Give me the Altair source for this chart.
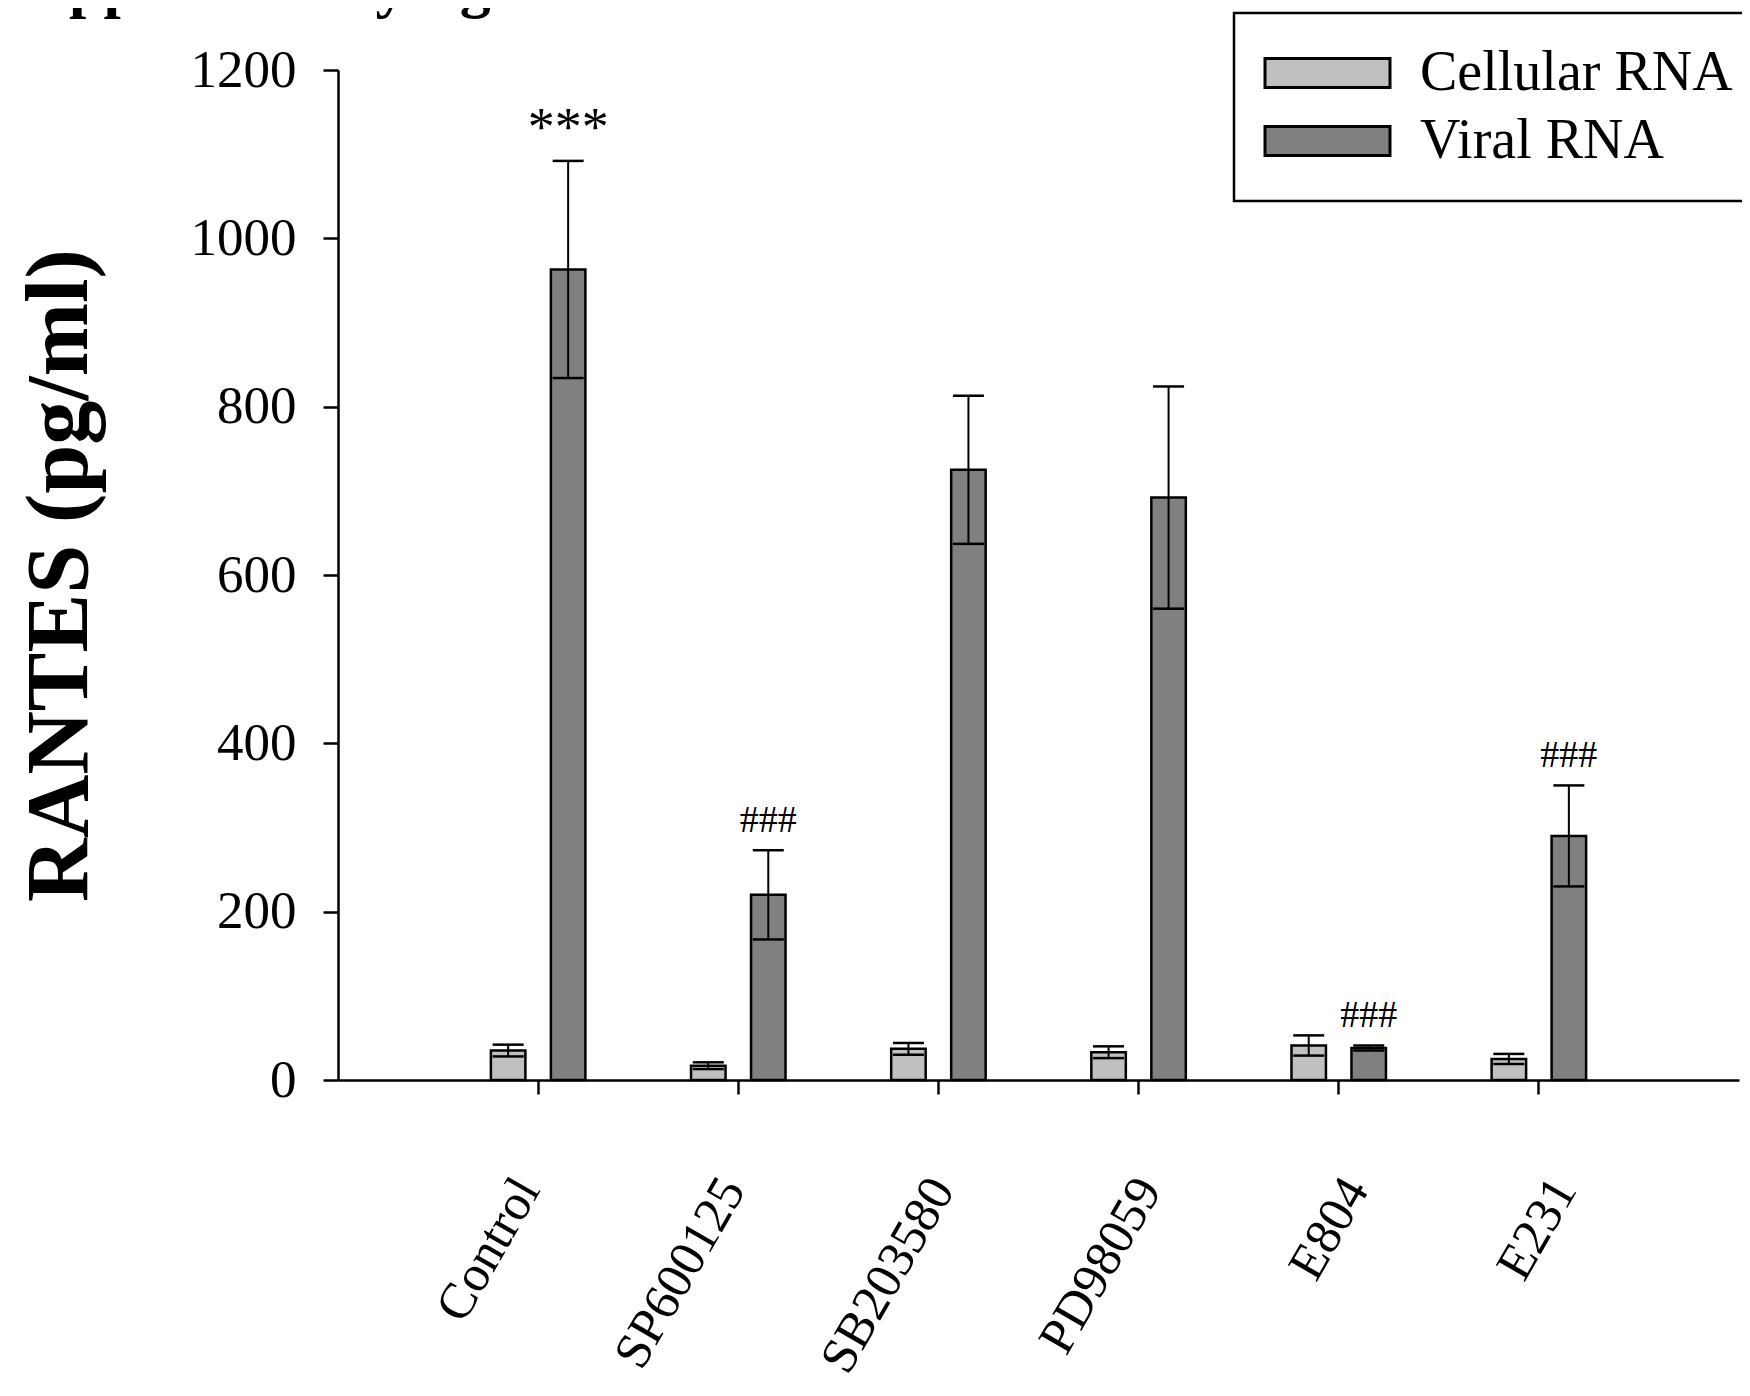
import altair as alt
import pandas as pd

# ---- data ----
categories = ["Control", "SP600125", "SB203580", "PD98059", "E804", "E231"]
series = ["Cellular RNA", "Viral RNA"]
cellular_mean = [35, 17, 37, 33, 41, 25]
cellular_err = [7, 4, 7, 7, 12, 6]
viral_mean = [963, 220, 725, 692, 38, 290]
viral_err = [129, 53, 88, 132, 3, 60]
viral_marks = ["***", "###", "", "", "###", "###"]
y_ticks = [0, 200, 400, 600, 800, 1000, 1200]
y_title = "RANTES (pg/ml)"
fig_title = "Supplementary figure 1B"
colors = ["#c0c0c0", "#808080"]

rows = []
for i, c in enumerate(categories):
    rows.append(dict(category=c, series=series[0], mean=cellular_mean[i],
                     err=cellular_err[i], note=""))
    rows.append(dict(category=c, series=series[1], mean=viral_mean[i],
                     err=viral_err[i], note=viral_marks[i]))
df = pd.DataFrame(rows)
df["lo"] = df["mean"] - df["err"]
df["hi"] = df["mean"] + df["err"]

FONT = "Liberation Serif"

# the original's rotated labels drift slightly to the right along the axis
label_drift = {"condition": [
    {"test": f"datum.value === '{c}'", "value": d}
    for c, d in zip(categories, [-10, -5, 4, 11, 18, 26])
], "value": 0}

x = alt.X(
    "category:N", sort=categories,
    scale=alt.Scale(domain=categories, paddingInner=0, paddingOuter=0.5),
    axis=alt.Axis(title=None, labelAngle=-60, labelAlign="right", labelBaseline="middle",
                  labelFont=FONT, labelFontSize=51, labelColor="black", labelPadding=88,
                  labelOffset=label_drift,
                  labelLimit=600, tickSize=14, tickWidth=2.5, tickColor="black",
                  domainColor="black", domainWidth=2.5, grid=False),
)
xo = alt.XOffset("series:N", sort=series,
                 scale=alt.Scale(domain=series, paddingInner=0.425, paddingOuter=0.8804))


def make_y(field):
    return alt.Y(
        f"{field}:Q",
        scale=alt.Scale(domain=[0, 1200], nice=False, zero=True),
        axis=alt.Axis(values=y_ticks, format="d", title=y_title, titleFont=FONT,
                      titleFontSize=88, titleFontWeight="bold", titleColor="black",
                      titleAngle=270, titleX=-252, titleY=505, titleBaseline="alphabetic",
                      titleAlign="center", labelFont=FONT, labelFontSize=53,
                      labelColor="black", labelPadding=27, tickSize=15, tickWidth=2.5,
                      tickColor="black", domainColor="black", domainWidth=2.5,
                      grid=False, labelFlush=False),
    )


fill = alt.Fill(
    "series:N", sort=series,
    scale=alt.Scale(domain=series, range=colors),
    legend=alt.Legend(title=None, orient="none", legendX=896, legendY=-57, padding=32,
                      strokeColor="black", fillColor="white",
                      symbolType="M-4.31,-1H4.31V1H-4.31Z", symbolSize=841,
                      symbolStrokeColor="black", symbolStrokeWidth=3, symbolOffset=33.5,
                      symbolOpacity=1, labelFont=FONT, labelFontSize=56, labelColor="black",
                      labelOffset=64.5, labelLimit=800, rowPadding=12),
)

base = alt.Chart(df)

bars = base.mark_bar(stroke="black", strokeWidth=2.5, opacity=1).encode(
    x=x, xOffset=xo, y=make_y("mean"), fill=fill)

err = base.mark_rule(color="black", strokeWidth=2).encode(
    x=x, xOffset=xo, y=make_y("lo"), y2="hi:Q")

cap_hi = base.mark_tick(color="black", thickness=2.5, size=31, opacity=1).encode(
    x=x, xOffset=xo, y=make_y("hi"))
cap_lo = base.mark_tick(color="black", thickness=2.5, size=31, opacity=1).encode(
    x=x, xOffset=xo, y=make_y("lo"))

stars = base.transform_filter("datum.note == '***'").mark_text(
    font=FONT, fontSize=54, baseline="alphabetic", dy=-16, color="black").encode(
    x=x, xOffset=xo, y=make_y("hi"), text="note:N")

hashes = base.transform_filter("datum.note == '###'").mark_text(
    font=FONT, fontSize=38, baseline="alphabetic", dy=-18, color="black").encode(
    x=x, xOffset=xo, y=make_y("hi"), text="note:N")

title_layer = alt.Chart(pd.DataFrame({"t": [fig_title]})).mark_text(
    font=FONT, fontSize=62, fontWeight="bold", align="left", baseline="alphabetic",
    color="black").encode(x=alt.value(-338), y=alt.value(-64), text="t:N")

chart = alt.layer(bars, err, cap_hi, cap_lo, stars, hashes, title_layer).properties(
    width=1401, height=1010,
    autosize=alt.AutoSizeParams(type="none"),
    padding={"left": 330, "top": 62, "right": 3, "bottom": 304},
    background="white",
).configure_view(stroke=None).configure_legend(strokeWidth=2.5)

chart.save("out.html", embed_options={"renderer": "svg", "actions": False})
